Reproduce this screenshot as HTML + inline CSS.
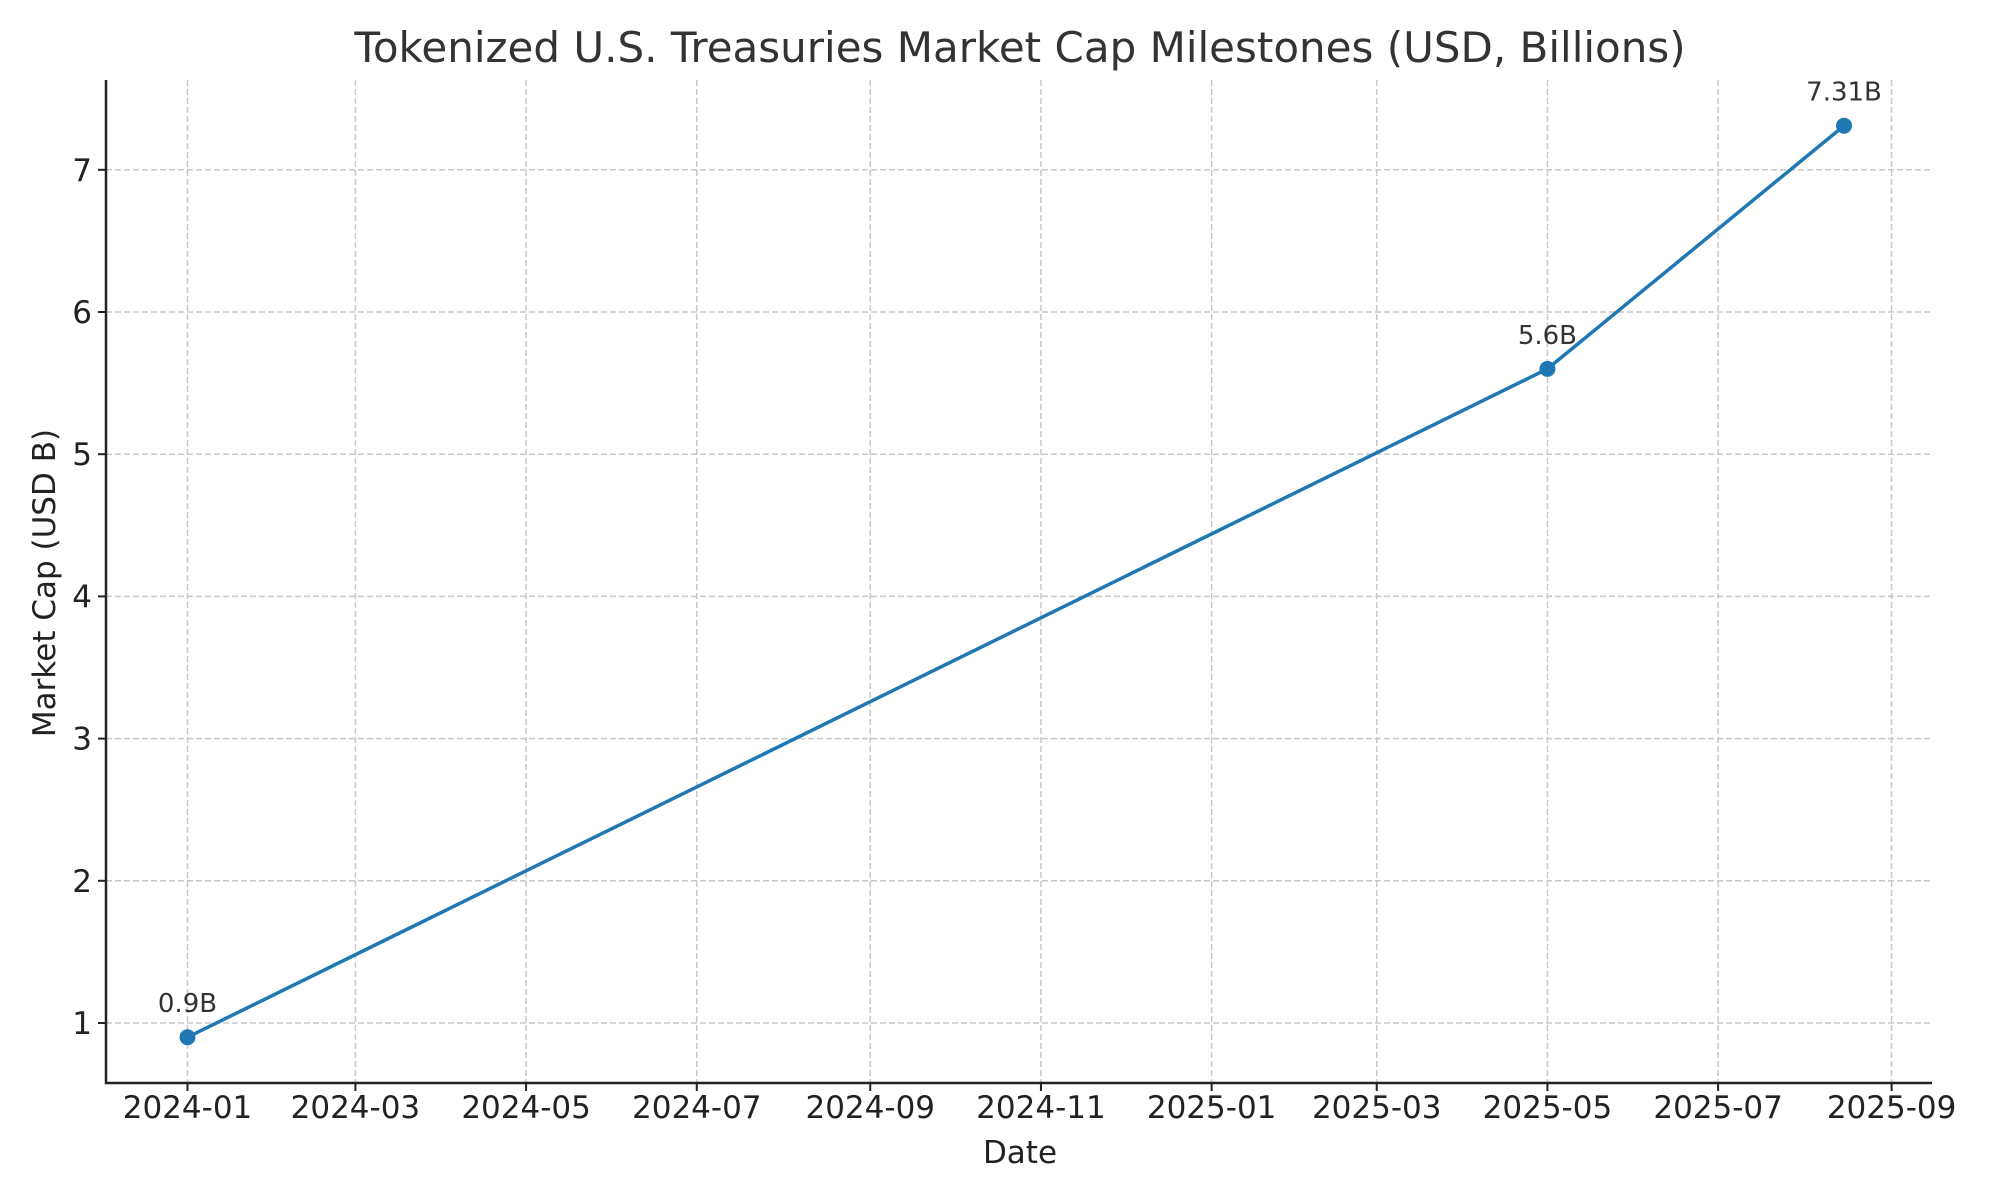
<!DOCTYPE html>
<html><head><meta charset="utf-8"><style>
html,body{margin:0;padding:0;background:#fff}
svg{display:block;font-family:"DejaVu Sans","Liberation Sans",sans-serif}
</style></head><body>
<svg id="chart" width="2000" height="1200" viewBox="0 0 2000 1200" xmlns="http://www.w3.org/2000/svg">
<rect width="2000" height="1200" fill="#fff"/>
<text x="1020" y="62" text-anchor="middle" font-size="42" fill="#333">Tokenized U.S. Treasuries Market Cap Milestones (USD, Billions)</text>
<g id="grid"></g>
<g id="axes"></g>
<g id="series"></g>
<text x="1020" y="1163" text-anchor="middle" font-size="31" fill="#222">Date</text>
<text transform="translate(55,583) rotate(-90)" text-anchor="middle" font-size="31" fill="#222">Market Cap (USD B)</text>
</svg>
<script>
const dates = ["2024-01-01","2025-05-01","2025-08-15"];
const values = [0.9, 5.6, 7.31];
const valueLabels = ["0.9B","5.6B","7.31B"];
const xTickLabels = ["2024-01","2024-03","2024-05","2024-07","2024-09","2024-11","2025-01","2025-03","2025-05","2025-07","2025-09"];
const yTicks = [1,2,3,4,5,6,7];

const NS="http://www.w3.org/2000/svg";
const L=106,R=1932,T=80,B=1083;
const t0=Date.UTC(2024,0,1), t1=Date.UTC(2025,8,1);
function xs(d){const t=typeof d==="string"?Date.parse(d+(d.length===7?"-01":"")+"T00:00:00Z"):d;return 187.5+(t-t0)/(t1-t0)*(1891.6-187.5);}
function ys(v){return 1023-(v-1)*142.2;}
function mk(tag,attrs,parent){const e=document.createElementNS(NS,tag);for(const k in attrs)e.setAttribute(k,attrs[k]);parent.appendChild(e);return e;}
const grid=document.getElementById('grid'),axes=document.getElementById('axes'),series=document.getElementById('series');

xTickLabels.forEach(lb=>{
  const x=xs(lb);
  const g=mk('line',{x1:x,x2:x,y1:T,y2:B,stroke:'#c8c8c8','stroke-width':1.5,'stroke-dasharray':'6,3'},grid);
  
  
  const tk=mk('line',{x1:x,x2:x,y1:B,y2:B+8,stroke:'#222','stroke-width':2},axes);
  
  
  const t=mk('text',{x:x,y:1118,'text-anchor':'middle','font-size':31,fill:'#222'},axes);
  t.textContent=lb;
  
  
});
yTicks.forEach(v=>{
  const y=ys(v);
  const g=mk('line',{x1:L,x2:R,y1:y,y2:y,stroke:'#c8c8c8','stroke-width':1.5,'stroke-dasharray':'6,3'},grid);
  
  
  const tk=mk('line',{x1:L-8,x2:L,y1:y,y2:y,stroke:'#222','stroke-width':2},axes);
  
  
  const t=mk('text',{x:L-14,y:y+11,'text-anchor':'end','font-size':31,fill:'#222'},axes);
  t.textContent=String(v);
  
  
});
const sp=mk('path',{d:`M${L},${T} V${B} H${R}`,fill:'none',stroke:'#222','stroke-width':2.5},axes);



const pts=dates.map((d,i)=>[xs(d),ys(values[i])]);
const line=mk('polyline',{points:pts.map(p=>p.join(',')).join(' '),fill:'none',stroke:'#1f77b4','stroke-width':3.5,'stroke-linejoin':'round'},series);


pts.forEach((p,i)=>{
  const c=mk('circle',{cx:p[0],cy:p[1],r:8,fill:'#1f77b4'},series);
  
  
  const t=mk('text',{x:p[0],y:p[1]-25,'text-anchor':'middle','font-size':26,fill:'#333'},series);
  t.textContent=valueLabels[i];
  
  
});
</script>
</body></html>
